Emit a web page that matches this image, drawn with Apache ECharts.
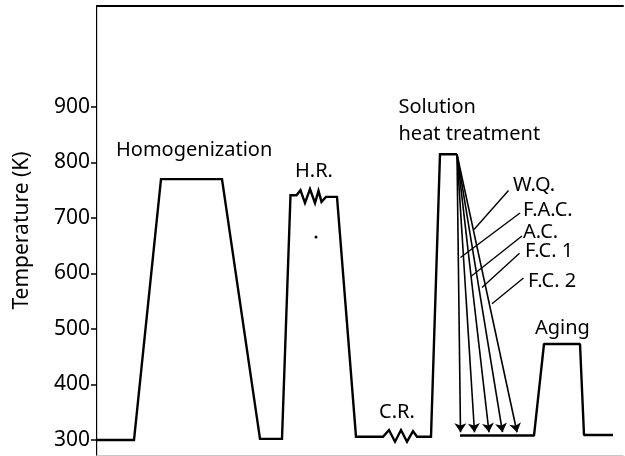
<!DOCTYPE html>
<html>
<head>
<meta charset="utf-8">
<script src="https://cdn.jsdelivr.net/npm/echarts@6/dist/echarts.min.js"></script>
<style>
  html, body { margin: 0; padding: 0; background: #fff; }
  #chart { width: 625px; height: 456px; }
</style>
</head>
<body>
<div id="chart"></div>
<script>
// Temperature axis ticks (K)
const tempTicks = [300, 400, 500, 600, 700, 800, 900];

// Process route: homogenization, hot rolling, cold rolling, solution soak
const pathTime = [0, 7.4, 12.8, 25.0, 32.6, 37.0,
  38.7, 39.9, 40.7, 41.6, 42.6, 43.6, 44.3, 44.9, 45.8, 48.0,
  51.8, 57.2, 58.4, 59.6, 60.8, 62.0, 63.2, 64.0, 66.8,
  68.6, 72.0];
const pathTemp = [300, 300, 770, 770, 302, 302,
  741, 741, 750, 727, 752, 727, 749, 729, 738, 738,
  306, 306, 318, 297, 318, 297, 316, 306, 306,
  815, 815];

// Cooling routes from the solution temperature
const coolNames = ['W.Q.', 'F.A.C.', 'A.C.', 'F.C. 1', 'F.C. 2'];
const coolStart = [72.0, 815];
const coolEndTime = [72.7, 75.5, 78.4, 81.1, 84.0];
const coolEndTemp = 314;

// Room-temperature hold and aging
const agingTime = [72.6, 87.4, 89.4, 96.6, 97.4, 103.2];
const agingTemp = [308, 308, 473, 473, 309, 309];

// Leader lines from the cooling labels to their curves
const leaderFromTime = [82.3, 84.6, 85.0, 84.5, 85.3];
const leaderFromTemp = [749.5, 709.0, 667.6, 636.4, 591.9];
const leaderToTime = [75.4, 72.7, 74.9, 77.0, 79.0];
const leaderToTemp = [679.3, 628.8, 595.5, 574.8, 545.4];

// Text annotations (left edge, middle) in data units
const stageNames = ['Homogenization', 'H.R.', 'Solution', 'heat treatment', 'C.R.', 'Aging'];
const stageTime = [3.8, 39.6, 60.3, 60.3, 56.4, 87.6];
const stageTemp = [822.5, 783.8, 899.1, 850.5, 350.5, 501.8];
const coolLabelTime = [83.2, 85.2, 85.2, 85.6, 86.2];
const coolLabelTemp = [759.5, 713.5, 673.9, 639.6, 585.6];

// Small dot beside the hot-rolling step
const dotTime = [43.8];
const dotTemp = [665.8];

const INK = '#000';
const FONT = '"Noto Sans", "Liberation Sans", sans-serif';

const zip = (a, b) => a.map((v, i) => [v, b[i]]);

const textSeries = (names, xs, ys) => ({
  type: 'scatter',
  symbolSize: 0,
  silent: true,
  itemStyle: { opacity: 1 },
  data: names.map((n, i) => ({ name: n, value: [xs[i], ys[i]] })),
  label: {
    show: true,
    position: 'right',
    distance: 0,
    formatter: p => p.name,
    color: INK,
    opacity: 1,
    fontFamily: FONT,
    fontSize: 20,
    align: 'left',
    verticalAlign: 'middle'
  }
});

const chart = echarts.init(document.getElementById('chart'), null, { renderer: 'canvas' });

chart.setOption({
  backgroundColor: '#fff',
  animation: false,
  grid: { left: 97, right: 2, top: 6, bottom: 1, containLabel: false },
  xAxis: [
    {
      type: 'value', min: 0, max: 105.2, position: 'bottom',
      axisLine: { show: true, lineStyle: { color: '#c8c8c8', width: 1 } },
      axisTick: { show: false }, axisLabel: { show: false }, splitLine: { show: false }
    },
    {
      type: 'value', min: 0, max: 105.2, position: 'top',
      axisLine: { show: true, lineStyle: { color: INK, width: 2 } },
      axisTick: { show: false }, axisLabel: { show: false }, splitLine: { show: false }
    }
  ],
  yAxis: [
    {
      type: 'value', min: 273, max: 1082, position: 'left',
      name: 'Temperature (K)',
      nameLocation: 'middle',
      nameRotate: 90,
      nameGap: 64,
      nameTextStyle: { color: INK, fontFamily: FONT, fontSize: 21 },
      axisLine: { show: true, lineStyle: { color: INK, width: 2 } },
      axisTick: { show: true, inside: false, length: 6, customValues: tempTicks,
        lineStyle: { color: INK, width: 1.5 } },
      axisLabel: { show: true, customValues: tempTicks, margin: 7,
        color: INK, fontFamily: FONT, fontSize: 21 },
      splitLine: { show: false }
    },
    {
      type: 'value', min: 273, max: 1082, position: 'right',
      axisLine: { show: true, lineStyle: { color: '#d0d0d0', width: 1 } },
      axisTick: { show: false }, axisLabel: { show: false }, splitLine: { show: false }
    }
  ],
  series: [
    {
      name: 'route',
      type: 'line',
      data: zip(pathTime, pathTemp),
      symbol: 'none',
      lineStyle: { color: INK, width: 2.4, join: 'miter' },
      silent: true
    },
    {
      name: 'aging',
      type: 'line',
      data: zip(agingTime, agingTemp),
      symbol: 'none',
      lineStyle: { color: INK, width: 2.4 },
      silent: true
    },
    {
      name: 'cooling',
      type: 'line',
      data: [],
      silent: true,
      markLine: {
        silent: true,
        symbol: ['none', 'arrow'],
        symbolSize: 9,
        label: { show: false },
        itemStyle: { color: INK },
        lineStyle: { color: INK, width: 1.6, type: 'solid', opacity: 1 },
        emphasis: { disabled: true },
        data: coolEndTime.map(t => [
          { coord: coolStart },
          { coord: [t, coolEndTemp], symbol: 'arrow', symbolSize: 9 }
        ])
      }
    },
    {
      name: 'leaders',
      type: 'line',
      data: [],
      silent: true,
      markLine: {
        silent: true,
        symbol: ['none', 'none'],
        label: { show: false },
        lineStyle: { color: INK, width: 1.4, type: 'solid', opacity: 1 },
        emphasis: { disabled: true },
        data: leaderFromTime.map((t, i) => [
          { coord: [t, leaderFromTemp[i]] },
          { coord: [leaderToTime[i], leaderToTemp[i]] }
        ])
      }
    },
    {
      name: 'dot',
      type: 'scatter',
      data: zip(dotTime, dotTemp),
      symbolSize: 3,
      itemStyle: { color: INK, opacity: 1 },
      silent: true
    },
    textSeries(stageNames, stageTime, stageTemp),
    textSeries(coolNames, coolLabelTime, coolLabelTemp)
  ]
});
</script>
</body>
</html>
